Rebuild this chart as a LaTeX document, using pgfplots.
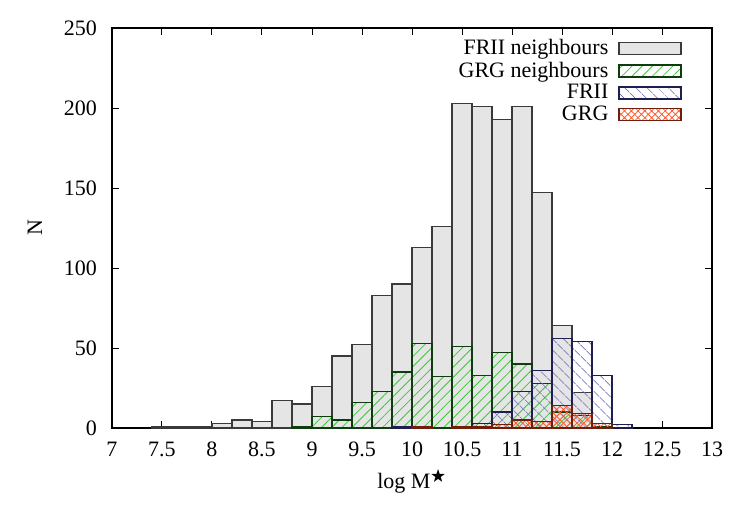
\documentclass[border=0pt]{standalone}
\usepackage{fontspec}
\setmainfont{Liberation Serif}
\usepackage{amssymb}
\usepackage{pgfplots}
\pgfplotsset{compat=1.18}
\usetikzlibrary{patterns.meta}

\definecolor{nbgrey}{HTML}{E5E5E5}
\definecolor{nbedge}{HTML}{3A3A3A}
\definecolor{grgnline}{HTML}{3CC83C}
\definecolor{grgnedge}{HTML}{0F3C0F}
\definecolor{friiline}{HTML}{5050A8}
\definecolor{friiedge}{HTML}{1E1E50}
\definecolor{grgline}{HTML}{FF5A28}
\definecolor{grgedge}{HTML}{6E1E0A}

\newcommand{\plotfont}{\fontsize{11}{12.5}\selectfont}

\pgfplotsset{
  histbar/.style={
    ybar, bar width=0.2, bar shift=0pt, line width=0.6pt,
    legend image code/.code={\draw[##1] (0pt,-3pt) rectangle (31pt,3pt);}
  }
}

\begin{document}
\begin{tikzpicture}
\useasboundingbox (-56pt,-48.5pt) rectangle (319pt,214pt);
\begin{axis}[
  at={(0,0)}, anchor=south west,
  scale only axis, width=300pt, height=200pt,
  xmin=7, xmax=13, ymin=0, ymax=250,
  xtick={7,7.5,8,8.5,9,9.5,10,10.5,11,11.5,12,12.5,13},
  ytick={0,50,100,150,200,250},
  tick align=inside, major tick length=3.5pt,
  axis line style={line width=0.6pt},
  tick style={line width=0.5pt, black},
  /pgf/number format/assume math mode=true,
  tick label style={font=\plotfont},
  xticklabel style={yshift=-3.5pt},
  yticklabel style={xshift=-4pt},
  every axis x label/.style={at={(axis description cs:0.5,0)}, anchor=base, yshift=-30pt, font=\plotfont},
  every axis y label/.style={at={(axis description cs:0,0.5)}, anchor=center, xshift=-38.5pt, rotate=90, font=\plotfont},
  xlabel={log M$^{\bigstar}$},
  ylabel={N},
  legend plot pos=right,
  legend cell align=right,
  legend style={at={(axis description cs:1,1)}, anchor=north east, xshift=-12pt, yshift=-1.5pt,
    draw=none, fill=none, row sep=-1.9pt, column sep=3pt, font=\plotfont},
]
% FRII neighbours
\addplot[histbar, fill=nbgrey, draw=nbedge] coordinates {
  (7.5,1) (7.7,1) (7.9,1) (8.1,3) (8.3,5) (8.5,4) (8.7,17) (8.9,15)
  (9.1,26) (9.3,45) (9.5,52) (9.7,83) (9.9,90) (10.1,113) (10.3,126)
  (10.5,203) (10.7,201) (10.9,193) (11.1,201) (11.3,147) (11.5,64) (11.7,22)
};
\addlegendentry{FRII neighbours}
% GRG neighbours
\addplot[histbar, draw=grgnedge, pattern={Lines[angle=45, distance=3.6pt, line width=0.4pt]}, pattern color=grgnline] coordinates {
  (8.9,1) (9.1,7) (9.3,5) (9.5,16) (9.7,23) (9.9,35) (10.1,53) (10.3,32)
  (10.5,51) (10.7,33) (10.9,47) (11.1,40) (11.3,28) (11.5,10) (11.7,8) (11.9,1)
};
\addlegendentry{GRG neighbours}
% FRII
\addplot[histbar, draw=friiedge, pattern={Lines[angle=-45, distance=4pt, line width=0.4pt]}, pattern color=friiline] coordinates {
  (9.9,1) (10.5,1) (10.7,3) (10.9,10) (11.1,23) (11.3,36) (11.5,56) (11.7,54) (11.9,33) (12.1,2)
};
\addlegendentry{FRII}
% GRG
\addplot[histbar, draw=grgedge, pattern={Hatch[angle=45, distance=2.4pt, line width=0.4pt]}, pattern color=grgline] coordinates {
  (10.1,1) (10.5,1) (10.7,1) (10.9,2) (11.1,5) (11.3,4) (11.5,14) (11.7,9) (11.9,3)
};
\addlegendentry{GRG}
\end{axis}
\end{tikzpicture}
\end{document}
